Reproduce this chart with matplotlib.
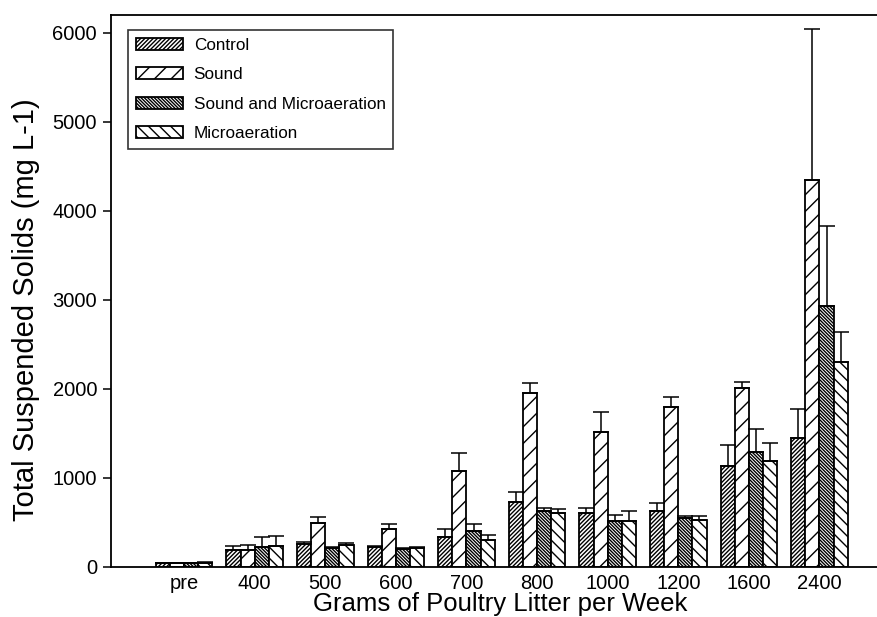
import matplotlib
matplotlib.use("Agg")
import matplotlib.pyplot as plt
import numpy as np

plt.rcParams['font.family'] = ['Liberation Sans', 'DejaVu Sans']
plt.rcParams['hatch.linewidth'] = 1.0
plt.rcParams['hatch.color'] = 'black'

# data (mg/L)
groups = ['pre', '400', '500', '600', '700', '800', '1000', '1200', '1600', '2400']
labels = ['Control', 'Sound', 'Sound and Microaeration', 'Microaeration']

control = [40, 190, 255, 230, 340, 730, 605, 630, 1140, 1450]
control_err = [5, 45, 30, 8, 85, 110, 60, 85, 235, 325]
sound = [45, 190, 490, 430, 1075, 1950, 1520, 1795, 2015, 4350]
sound_err = [5, 60, 70, 55, 205, 115, 225, 120, 60, 1690]
sound_micro = [40, 225, 215, 200, 400, 630, 520, 548, 1290, 2935]
sound_micro_err = [5, 115, 12, 10, 82, 35, 68, 30, 265, 900]
micro = [50, 240, 250, 218, 300, 605, 520, 525, 1195, 2300]
micro_err = [5, 105, 22, 5, 60, 45, 113, 45, 195, 345]

series = [control, sound, sound_micro, micro]
errors = [control_err, sound_err, sound_micro_err, micro_err]
hatches = ['/' * 8, '//', '\\' * 10, '\\' * 3]

fig = plt.figure(figsize=(8.78, 6.17), dpi=100)
ax = fig.add_axes([111/878, 50/617, 767/878, 552/617])

x = np.arange(len(groups))
width = 0.2
offsets = [-0.3, -0.1, 0.1, 0.3]

for vals, err, hatch, lab, off in zip(series, errors, hatches, labels, offsets):
    ax.bar(x + off, vals, width, color='white', edgecolor='black',
           linewidth=1.3, hatch=hatch, label=lab, zorder=2)
    ax.errorbar(x + off, vals, yerr=[np.zeros(len(err)), err], fmt='none',
                ecolor='black', elinewidth=1.1, capsize=5.5, capthick=1.1, zorder=3)

ax.set_xlim(-1.035, -1.035 + 767/70.6)
ax.set_ylim(0, 6200)
ax.set_yticks(np.arange(0, 6001, 1000))
ax.set_xticks(x)
ax.set_xticklabels(groups)

ax.tick_params(axis='y', direction='out', length=6, width=1.1, labelsize=14.5, pad=4)
ax.tick_params(axis='x', length=0, labelsize=14.5, pad=5)

ax.spines['right'].set_visible(False)
for s in ['left', 'bottom', 'top']:
    ax.spines[s].set_linewidth(1.3)

ax.set_xlabel('Grams of Poultry Litter per Week', fontsize=18.5, labelpad=-1)
ax.set_ylabel('Total Suspended Solids (mg L-1)', fontsize=21)
ax.xaxis.set_label_coords(0.508, -0.045)
ax.yaxis.set_label_coords(-0.093, 0.466)

leg = ax.legend(loc='upper left', bbox_to_anchor=(0.022, 0.973), borderaxespad=0,
                fontsize=12.3, frameon=True, fancybox=False, edgecolor='black',
                handlelength=2.8, handleheight=0.7, labelspacing=0.85,
                handletextpad=0.6, borderpad=0.45)
leg.get_frame().set_linewidth(1.2)

fig.savefig('out.png', dpi=100)
